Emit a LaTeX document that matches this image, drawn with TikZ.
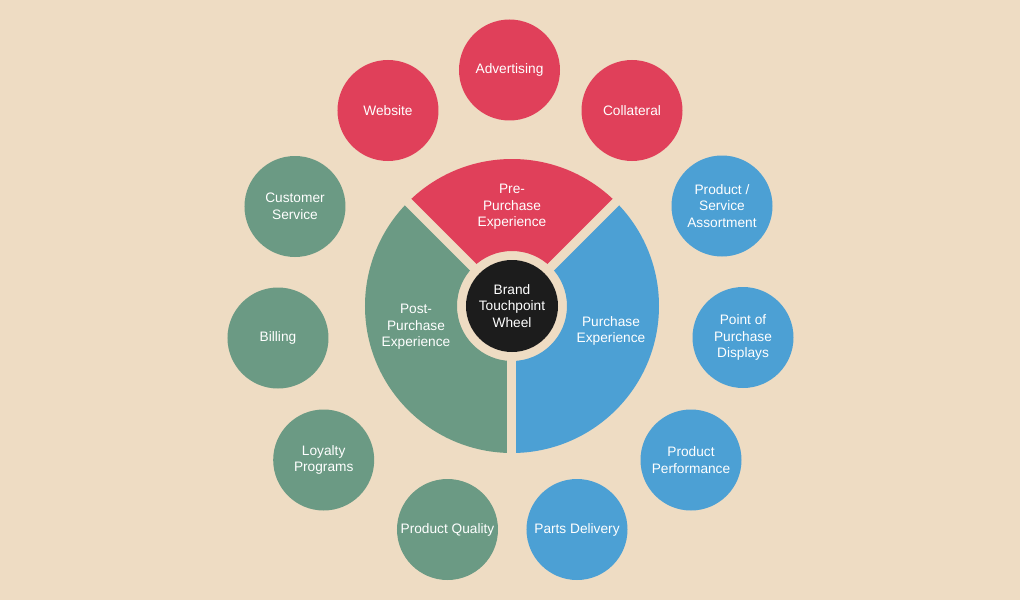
\documentclass[tikz,border=0pt]{standalone}
\usepackage{fontspec}
\setmainfont{Liberation Sans}
\definecolor{bg}{HTML}{EEDCC3}
\definecolor{redc}{HTML}{E0405A}
\definecolor{bluec}{HTML}{4CA0D4}
\definecolor{greenc}{HTML}{6B9A84}
\definecolor{hubc}{HTML}{1C1C1C}

\begin{document}
\begin{tikzpicture}[x=1pt,y=1pt,
   every node/.style={font=\fontsize{13.7}{16.5}\selectfont,text=white,align=center},
   spot/.style={circle,fill=#1,minimum size=101pt,inner sep=0pt}]
  \fill[bg] (-512,-294) rectangle (508,306);
  % wheel segments
  \fill[redc] (45:55) arc[start angle=45,end angle=135,radius=55]
     -- (135:147) arc[start angle=135,end angle=45,radius=147] -- cycle;
  \fill[greenc] (135:55) arc[start angle=135,end angle=270,radius=55]
     -- (270:147) arc[start angle=270,end angle=135,radius=147] -- cycle;
  \fill[bluec] (-90:55) arc[start angle=-90,end angle=45,radius=55]
     -- (45:147) arc[start angle=45,end angle=-90,radius=147] -- cycle;
  \foreach \a in {45,135,270}
    \draw[bg,line width=9] (0,0) -- (\a:152);
  \node[circle,fill=hubc,minimum size=92pt,inner sep=0pt] (hub) at (0,0)
     {Brand\\Touchpoint\\Wheel};
  \node (pre) at (0,99) {Pre-\\Purchase\\Experience};
  \node (pur) at (99,-25) {Purchase\\Experience};
  \node (post) at (-96,-21) {Post-\\Purchase\\Experience};
  % touchpoints
  \node[spot=redc] (adv) at (-2.5,236) {Advertising};
  \node[spot=redc] (coll) at (120,195.5) {Collateral};
  \node[spot=bluec] (assort) at (210,100) {Product /\\Service\\Assortment};
  \node[spot=bluec] (pop) at (231,-31.5) {Point of\\Purchase\\Displays};
  \node[spot=bluec] (perf) at (179,-154) {Product\\Performance};
  \node[spot=bluec] (parts) at (65,-223.5) {Parts Delivery};
  \node[spot=greenc] (qual) at (-64.5,-223.5) {Product Quality};
  \node[spot=greenc] (loyal) at (-188.3,-154) {Loyalty\\Programs};
  \node[spot=greenc] (bill) at (-234,-32) {Billing};
  \node[spot=greenc] (cust) at (-217,99.5) {Customer\\Service};
  \node[spot=redc] (web) at (-124,195.5) {Website};
\end{tikzpicture}
\end{document}
